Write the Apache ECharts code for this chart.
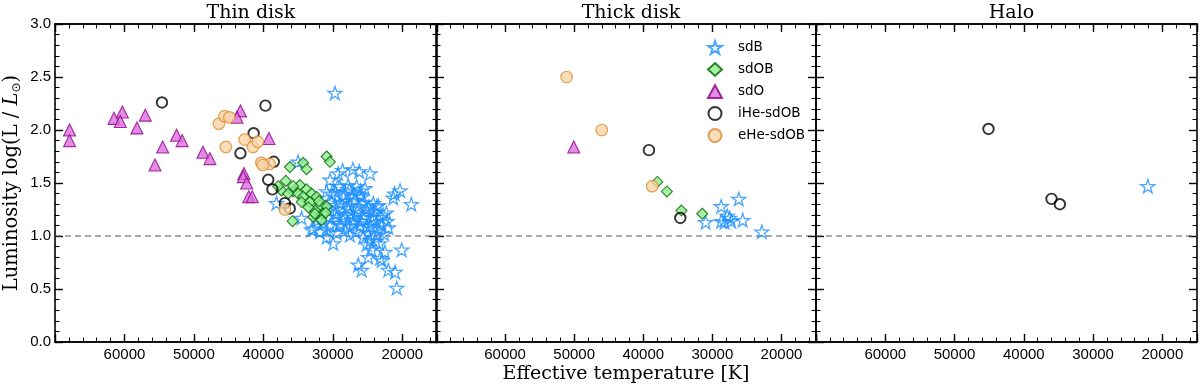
<!DOCTYPE html>
<html><head><meta charset="utf-8">
<script src="https://cdn.jsdelivr.net/npm/echarts@6/dist/echarts.min.js"></script>
<style>html,body{margin:0;padding:0;background:#fff}#c{width:1200px;height:388px}</style>
</head><body><div id="c"></div>
<script>
// ---------- data (Teff [K], log L/Lsun) ----------
const panelTitles = ['Thin disk', 'Thick disk', 'Halo'];
const classNames = ['sdB', 'sdOB', 'sdO', 'iHe-sdOB', 'eHe-sdOB'];
const xTickValues = [60000, 50000, 40000, 30000, 20000];
const yTickValues = [0.0, 0.5, 1.0, 1.5, 2.0, 2.5, 3.0];
const refLevel = 1.0;
const xTitle = 'Effective temperature [K]';
const yTitle = '{n|Luminosity log(L / }{i|L}{s|⊙}{n|)}';

const thinSdB = [
  [29700,2.35],[35000,1.70],
  [28600,1.62],[27100,1.63],[26200,1.61],[24650,1.59],[30400,1.53],[29220,1.59],
  [28980,1.47],[27780,1.48],[26570,1.47],[25370,1.45],[29300,1.47],[27600,1.44],[26000,1.43],
  [30890,1.42],[29700,1.42],[28250,1.39],[27060,1.40],[25850,1.37],[28500,1.37],[26090,1.39],[30170,1.40],
  [21300,1.36],[20320,1.43],[21100,1.40],[18700,1.30],[24170,1.31],[23680,1.28],[23440,1.29],[22720,1.20],[24170,1.23],
  [30170,1.32],[28980,1.31],[27530,1.29],[26330,1.28],[25130,1.25],[29450,1.25],[28000,1.33],[26800,1.34],[25500,1.32],
  [27800,1.26],[26500,1.23],[24800,1.27],[29700,1.29],[31000,1.27],
  [29700,1.21],[28250,1.20],[27060,1.18],[25610,1.17],[24170,1.18],[27530,1.21],[25610,1.20],[23200,1.18],
  [29450,1.18],[30600,1.18],[22300,1.22],[22200,1.14],
  [30420,1.10],[28980,1.10],[27530,1.09],[26090,1.10],[24650,1.09],[23680,1.13],[28980,1.12],[27060,1.12],
  [25130,1.09],[23440,1.06],[28600,1.16],[27000,1.15],[25900,1.14],[24300,1.14],[23000,1.10],[22000,1.08],
  [31300,1.12],[32200,1.15],[34500,1.17],[33060,1.06],[31860,1.04],[32820,1.07],[30890,1.06],
  [29450,1.03],[27530,1.01],[25610,0.99],[23680,1.01],[28200,1.05],[26700,1.04],[25000,1.03],[22600,1.02],
  [30890,0.99],[29940,0.93],[25130,0.92],[24410,0.87],[23800,0.95],[24600,0.96],[23300,0.93],[22500,0.85],
  [23200,0.79],[24890,0.80],[22960,0.77],[20080,0.87],[26330,0.73],[25850,0.68],[22010,0.68],[21040,0.66],[20800,0.51],
  [38110,1.31]
];
const thinSdOB = [
  [36180,1.65],[34270,1.69],[33780,1.63],[30890,1.75],[30420,1.70],[36770,1.52],[34750,1.48],[35710,1.42],
  [33780,1.44],[37390,1.43],[36440,1.40],[34990,1.40],[34270,1.37],[33060,1.40],[32340,1.37],[34500,1.32],
  [33300,1.32],[31860,1.29],[30890,1.28],[32540,1.24],[31380,1.21],[32820,1.18],[31620,1.15],[35800,1.14],
  [37880,1.47],[35710,1.47],[32000,1.33],[33500,1.27],[31000,1.22],[32590,1.21]
];
const thinSdO = [
  [67900,2.00],[67900,1.90],[61500,2.11],[60300,2.17],[60600,2.08],[57000,2.14],[58200,2.02],[52500,1.95],
  [51700,1.90],[54500,1.84],[55600,1.67],[48700,1.79],[47700,1.73],[43300,2.18],[43800,2.12],[39200,1.92],
  [42800,1.59],[42900,1.56],[42400,1.50],[42100,1.37],[41600,1.37]
];
const thinIHe = [
  [54600,2.26],[39700,2.23],[41400,1.97],[43300,1.78],[38500,1.70],[39300,1.53],[38700,1.44],[36900,1.31],[36200,1.26]
];
const thinEHe = [
  [46400,2.06],[45600,2.13],[44900,2.12],[45400,1.84],[42700,1.91],[41500,1.84],[40800,1.89],[40300,1.69],
  [39100,1.68],[40100,1.67],[36900,1.25]
];

const thickSdB = [
  [30980,1.13],[28720,1.28],[26180,1.35],[28720,1.14],[27850,1.19],[27280,1.14],[28240,1.13],[25600,1.15],
  [22840,1.04],[27500,1.17]
];
const thickSdOB = [[37970,1.51],[36580,1.42],[34480,1.24],[31460,1.21]];
const thickSdO = [[50060,1.84]];
const thickIHe = [[39180,1.81],[34640,1.17]];
const thickEHe = [[51100,2.50],[46000,2.00],[38700,1.47]];

const haloSdB = [[22100,1.47]];
const haloSdOB = [];
const haloSdO = [];
const haloIHe = [[45100,2.01],[36000,1.35],[34800,1.30]];
const haloEHe = [];

const panelData = [
  [thinSdB, thinSdOB, thinSdO, thinIHe, thinEHe],
  [thickSdB, thickSdOB, thickSdO, thickIHe, thickEHe],
  [haloSdB, haloSdOB, haloSdO, haloIHe, haloEHe]
];

// ---------- styling / layout ----------
function starPath() {
  const pts = [];
  for (let k = 0; k < 10; k++) {
    const a = k * Math.PI / 5, r = (k % 2) ? 0.382 : 1;
    pts.push([50 + 50 * r * Math.sin(a), 50 - 50 * r * Math.cos(a)]);
  }
  return 'path://M' + pts.map(p => p[0].toFixed(2) + ',' + p[1].toFixed(2)).join('L') + 'Z';
}
const STAR = starPath();
const classStyle = {
  'sdB':      { symbol: STAR, symbolSize: 14, symbolKeepAspect: true,
                itemStyle: { color: 'rgba(255,255,255,0)', borderColor: '#1E90FF', borderWidth: 1.3 } },
  'sdOB':     { symbol: 'diamond', symbolSize: 11,
                itemStyle: { color: '#90EE90', borderColor: '#006400', borderWidth: 1.1 } },
  'sdO':      { symbol: 'triangle', symbolSize: 12,
                itemStyle: { color: '#DD6EDD', borderColor: '#8B008B', borderWidth: 1.1 } },
  'iHe-sdOB': { symbol: 'circle', symbolSize: 10.5,
                itemStyle: { color: 'rgba(255,255,255,0)', borderColor: '#000000', borderWidth: 1.9 } },
  'eHe-sdOB': { symbol: 'circle', symbolSize: 11.5,
                itemStyle: { color: '#F8D6A8', borderColor: '#E0892E', borderWidth: 1.2 } }
};

const gridLeft = [55, 436, 816];
const gridWidth = [382, 380, 381];
const gridTop = 24, gridHeight = 318;
const T_MIN = 15000, T_MAX = 70000;

const FONT_SANS = 'DejaVu Sans';
const FONT_SERIF = 'DejaVu Serif';

const grids = [], xAxes = [], yAxes = [], series = [], titles = [];

function xAxisDef(i, pos, major) {
  return {
    gridIndex: i, type: 'value', position: pos,
    min: -T_MAX, max: -T_MIN, interval: major ? 10000 : 2000,
    axisLine: { show: true, onZero: false, lineStyle: { color: '#000', width: 1.6 } },
    axisTick: { show: true, inside: true, length: major ? 8 : 4.5,
                lineStyle: { color: '#000', width: major ? 1.4 : 1.1 } },
    axisLabel: {
      show: major && pos === 'bottom', margin: 5, fontSize: 15, color: '#000',
      formatter: v => xTickValues.indexOf(-v) >= 0 ? String(-v) : ''
    },
    splitLine: { show: false }
  };
}
function yAxisDef(i, pos) {
  const showLabel = (i === 0 && pos === 'left');
  return {
    gridIndex: i, type: 'value', position: pos,
    min: 0, max: 3, interval: 0.5,
    axisLine: { show: true, onZero: false, lineStyle: { color: '#000', width: 1.6 } },
    axisTick: { show: true, inside: true, length: 8, lineStyle: { color: '#000', width: 1.4 } },
    minorTick: { show: true, splitNumber: 5, length: 4.5, lineStyle: { color: '#000', width: 1.1 } },
    axisLabel: {
      show: showLabel, margin: 4, fontSize: 15, color: '#000',
      formatter: v => yTickValues.indexOf(v) >= 0 ? v.toFixed(1) : ''
    },
    splitLine: { show: false }
  };
}

for (let i = 0; i < 3; i++) {
  grids.push({ left: gridLeft[i], top: gridTop, width: gridWidth[i], height: gridHeight });
  xAxes.push(xAxisDef(i, 'bottom', true));   // 4i
  xAxes.push(xAxisDef(i, 'bottom', false));  // 4i+1
  xAxes.push(xAxisDef(i, 'top', true));      // 4i+2
  xAxes.push(xAxisDef(i, 'top', false));     // 4i+3
  yAxes.push(yAxisDef(i, 'left'));           // 2i
  yAxes.push(yAxisDef(i, 'right'));          // 2i+1
  titles.push({ text: panelTitles[i], left: gridLeft[i] + gridWidth[i] / 2, textAlign: 'center', top: -1,
                textStyle: { fontFamily: FONT_SERIF, fontSize: 19, fontWeight: 'normal', color: '#000' } });
  // dashed reference line at log L = 1 (plain line series across the axis extent)
  series.push({
    type: 'line', xAxisIndex: 4 * i, yAxisIndex: 2 * i, silent: true,
    data: [[-T_MAX, refLevel], [-T_MIN, refLevel]],
    showSymbol: false, symbol: 'none',
    lineStyle: { type: [6, 4], color: '#555', width: 1.2 }, z: 1
  });
  classNames.forEach((cls, k) => {
    const st = classStyle[cls];
    series.push({
      type: 'scatter', name: cls, xAxisIndex: 4 * i, yAxisIndex: 2 * i,
      data: panelData[i][k].map(p => [-p[0], p[1]]),
      symbol: st.symbol, symbolSize: st.symbolSize, symbolKeepAspect: !!st.symbolKeepAspect,
      itemStyle: st.itemStyle
    });
  });
}

const chart = echarts.init(document.getElementById('c'));
chart.setOption({
  animation: false,
  title: titles,
  grid: grids,
  xAxis: xAxes,
  yAxis: yAxes,
  legend: {
    data: classNames, orient: 'vertical', left: 702, top: 35,
    itemWidth: 14, itemHeight: 13, itemGap: 7, symbolKeepAspect: true,
    textStyle: { fontFamily: FONT_SANS, fontSize: 13.5, color: '#000', padding: [0, 0, 0, 11] }
  },
  graphic: [
    { type: 'text', x: gridLeft[1] + gridWidth[1] / 2, y: 374, silent: true,
      style: { text: xTitle, fontFamily: FONT_SERIF, fontSize: 19, fill: '#000',
               align: 'center', verticalAlign: 'middle' } },
    { type: 'text', x: 12, y: gridTop + gridHeight / 2, rotation: Math.PI / 2, silent: true,
      style: { text: yTitle, fill: '#000', align: 'center', verticalAlign: 'middle',
               rich: {
                 n: { fontFamily: FONT_SERIF, fontSize: 19.5, fill: '#000' },
                 i: { fontFamily: FONT_SERIF, fontSize: 19.5, fontStyle: 'italic', fill: '#000' },
                 s: { fontFamily: FONT_SANS, fontSize: 12, fill: '#000', padding: [9, 0, 0, 0] }
               } } }
  ],
  series: series
});
</script>
</body></html>
